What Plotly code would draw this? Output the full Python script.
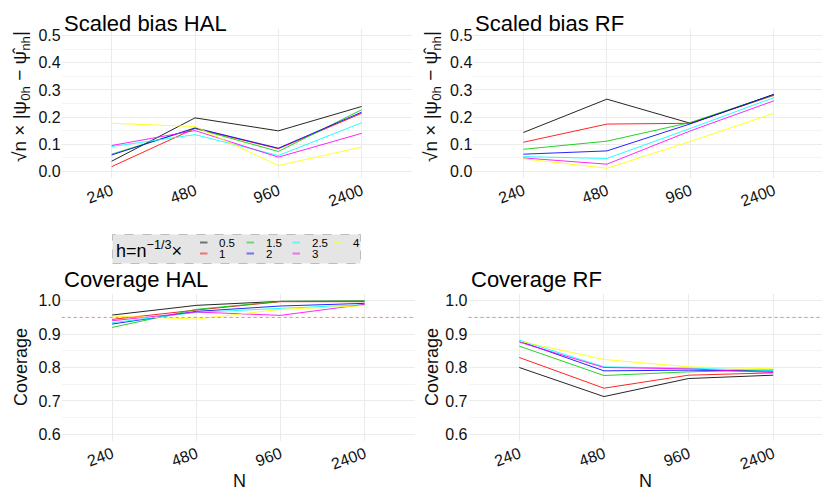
import plotly.graph_objects as go

# ---------------- data ----------------
N_labels = ["240", "480", "960", "2400"]
h_labels = ["0.5", "1", "1.5", "2", "2.5", "3", "4"]

# one row per h (same order as h_labels), one value per N
bias_hal = [
    [0.037, 0.197, 0.149, 0.239],
    [0.017, 0.158, 0.083, 0.214],
    [0.063, 0.158, 0.073, 0.227],
    [0.060, 0.160, 0.085, 0.218],
    [0.091, 0.135, 0.058, 0.179],
    [0.095, 0.150, 0.052, 0.140],
    [0.177, 0.165, 0.021, 0.089],
]
bias_rf = [
    [0.143, 0.266, 0.177, 0.283],
    [0.107, 0.174, 0.177, 0.280],
    [0.081, 0.111, 0.180, 0.282],
    [0.063, 0.075, 0.175, 0.284],
    [0.054, 0.047, 0.158, 0.272],
    [0.049, 0.026, 0.149, 0.260],
    [0.046, 0.011, 0.110, 0.214],
]
cov_hal = [
    [0.957, 0.986, 0.998, 0.999],
    [0.944, 0.972, 0.997, 0.997],
    [0.920, 0.974, 0.998, 0.999],
    [0.930, 0.968, 0.984, 0.992],
    [0.934, 0.965, 0.977, 0.988],
    [0.940, 0.966, 0.956, 0.989],
    [0.954, 0.945, 0.974, 0.985],
]
cov_rf = [
    [0.800, 0.713, 0.767, 0.777],
    [0.830, 0.738, 0.777, 0.784],
    [0.864, 0.776, 0.787, 0.793],
    [0.879, 0.790, 0.792, 0.789],
    [0.882, 0.802, 0.798, 0.791],
    [0.876, 0.800, 0.796, 0.785],
    [0.879, 0.824, 0.802, 0.796],
]
nominal_coverage = 0.95

# ---------------- style ----------------
colors = ["#000000", "#FF0000", "#00CD00", "#0000FF", "#00FFFF", "#FF00FF", "#FFFF00"]
FONT = "Liberation Sans, Arial, sans-serif"
# the page body has an 8px default margin, so the figure is drawn 8px in from the corner
OFF = 8
W, H = 830 - OFF, 498 - OFF

def px_x(v):
    return (v - OFF) / W

def px_y(v):
    return 1 - (v - OFF) / H

fig = go.Figure()

panels = [
    (bias_hal, "x", "y"),
    (bias_rf, "x2", "y2"),
    (cov_hal, "x3", "y3"),
    (cov_rf, "x4", "y4"),
]
for p, (data, xa, ya) in enumerate(panels):
    for i, h in enumerate(h_labels):
        fig.add_trace(go.Scatter(
            x=N_labels, y=data[i], mode="lines",
            line=dict(color=colors[i], width=1),
            opacity=0.85,
            name=h, legendgroup=h, showlegend=False,
            xaxis=xa, yaxis=ya,
        ))

grid_major = "#EBEBEB"
grid_minor = "#F4F4F4"

def xaxis(domain, anchor):
    return dict(
        domain=domain, anchor=anchor, type="category",
        categoryorder="array", categoryarray=N_labels,
        range=[-0.6, 3.6], showgrid=True, gridcolor=grid_major, gridwidth=1,
        zeroline=False, showline=False, ticks="", tickangle=-20,
        automargin=False,
        tickfont=dict(size=16, color="#111111", family=FONT),
    )

def yaxis(domain, anchor, rng, dtick, mdtick):
    return dict(
        domain=domain, anchor=anchor, range=rng, dtick=dtick, tick0=0,
        tickformat=".1f", showgrid=True, gridcolor=grid_major, gridwidth=1,
        minor=dict(dtick=mdtick, tick0=0, showgrid=True, gridcolor=grid_minor, gridwidth=0.6),
        zeroline=False, showline=False, ticks="", automargin=False,
        tickfont=dict(size=16, color="#111111", family=FONT),
    )

top = [px_y(178), px_y(29)]
bot = [px_y(441), px_y(294)]

fig.update_layout(
    xaxis=xaxis([px_x(61.7), px_x(411.7)], "y"),
    xaxis2=xaxis([px_x(473.3), px_x(824)], "y2"),
    xaxis3=xaxis([px_x(61.7), px_x(415)], "y3"),
    xaxis4=xaxis([px_x(468.5), px_x(824)], "y4"),
    yaxis=yaxis(top, "x", [-0.025, 0.525], 0.1, 0.05),
    yaxis2=yaxis(top, "x2", [-0.025, 0.525], 0.1, 0.05),
    yaxis3=yaxis(bot, "x3", [0.58, 1.02], 0.1, 0.05),
    yaxis4=yaxis(bot, "x4", [0.58, 1.02], 0.1, 0.05),
)

# nominal coverage reference lines
for xa, ya in [("x3", "y3"), ("x4", "y4")]:
    fig.add_shape(type="line", xref=f"{xa} domain", yref=ya,
                  x0=0, x1=1, y0=nominal_coverage, y1=nominal_coverage,
                  line=dict(color="#FF8080", width=1, dash="dot"))

# panel titles
titles = [
    ("Scaled bias HAL", 61.7, 8.5, "top"),
    ("Scaled bias RF", 473.3, 8.5, "top"),
    ("Coverage HAL", 61.7, 279.5, "middle"),
    ("Coverage RF", 468.5, 279.5, "middle"),
]
for t, x0, yc, ya in titles:
    fig.add_annotation(text=t, xref="paper", yref="paper", x=px_x(x0), y=px_y(yc),
                       xanchor="left", yanchor=ya, showarrow=False,
                       font=dict(size=22, color="#000000", family=FONT))

# axis titles
ytitle_bias = "√n × |ψ<sub>0h</sub> − ψ\u0302<sub>nh</sub>|"
for xc in [21, 432]:
    fig.add_annotation(text=ytitle_bias, xref="paper", yref="paper",
                       x=px_x(xc), y=px_y(97), textangle=-90,
                       xanchor="center", yanchor="middle", showarrow=False,
                       font=dict(size=19, color="#111111", family=FONT))
    fig.add_annotation(text="Coverage", xref="paper", yref="paper",
                       x=px_x(xc), y=px_y(367), textangle=-90,
                       xanchor="center", yanchor="middle", showarrow=False,
                       font=dict(size=18, color="#111111", family=FONT))
for xc in [239, 645]:
    fig.add_annotation(text="N", xref="paper", yref="paper",
                       x=px_x(xc), y=px_y(481), xanchor="center", yanchor="middle",
                       showarrow=False, font=dict(size=18, color="#111111", family=FONT))

# ---------------- legend (two rows, filled column by column) ----------------
LEG_BOX = (112.5, 234.5, 360.5, 263.5)          # left, top, right, bottom (px)
LEG_COL_X = [200, 246.5, 292.5, 333.5]          # key start per column (px)
LEG_ROW_Y = [242.5, 253.5]                      # row centre (px)
KEY_LEN, LABEL_GAP = 7.5, 17

fig.add_shape(type="rect", xref="paper", yref="paper",
              x0=px_x(LEG_BOX[0]), x1=px_x(LEG_BOX[2]),
              y0=px_y(LEG_BOX[3]), y1=px_y(LEG_BOX[1]),
              fillcolor="#E5E5E5", line=dict(color="#BDBDBD", width=1, dash="dash"))
fig.add_annotation(text="h=n<sup>−1/3</sup>×", xref="paper", yref="paper",
                   x=px_x(114), y=px_y(249), xanchor="left", yanchor="middle",
                   showarrow=False, font=dict(size=18, color="#000000", family=FONT))
for i, h in enumerate(h_labels):
    cx = LEG_COL_X[i // 2]
    cy = LEG_ROW_Y[i % 2]
    fig.add_shape(type="line", xref="paper", yref="paper",
                  x0=px_x(cx), x1=px_x(cx + KEY_LEN), y0=px_y(cy), y1=px_y(cy),
                  line=dict(color=colors[i], width=2), opacity=0.5)
    fig.add_annotation(text=h, xref="paper", yref="paper",
                       x=px_x(cx + LABEL_GAP), y=px_y(cy + 0.5), xanchor="left",
                       yanchor="middle", showarrow=False,
                       font=dict(size=11.5, color="#000000", family=FONT))

fig.update_layout(
    width=W, height=H,
    margin=dict(l=0, r=0, t=0, b=0),
    paper_bgcolor="white", plot_bgcolor="white",
    font=dict(family=FONT, color="#111111"),
    showlegend=False,
)

fig.write_html("out.html")
